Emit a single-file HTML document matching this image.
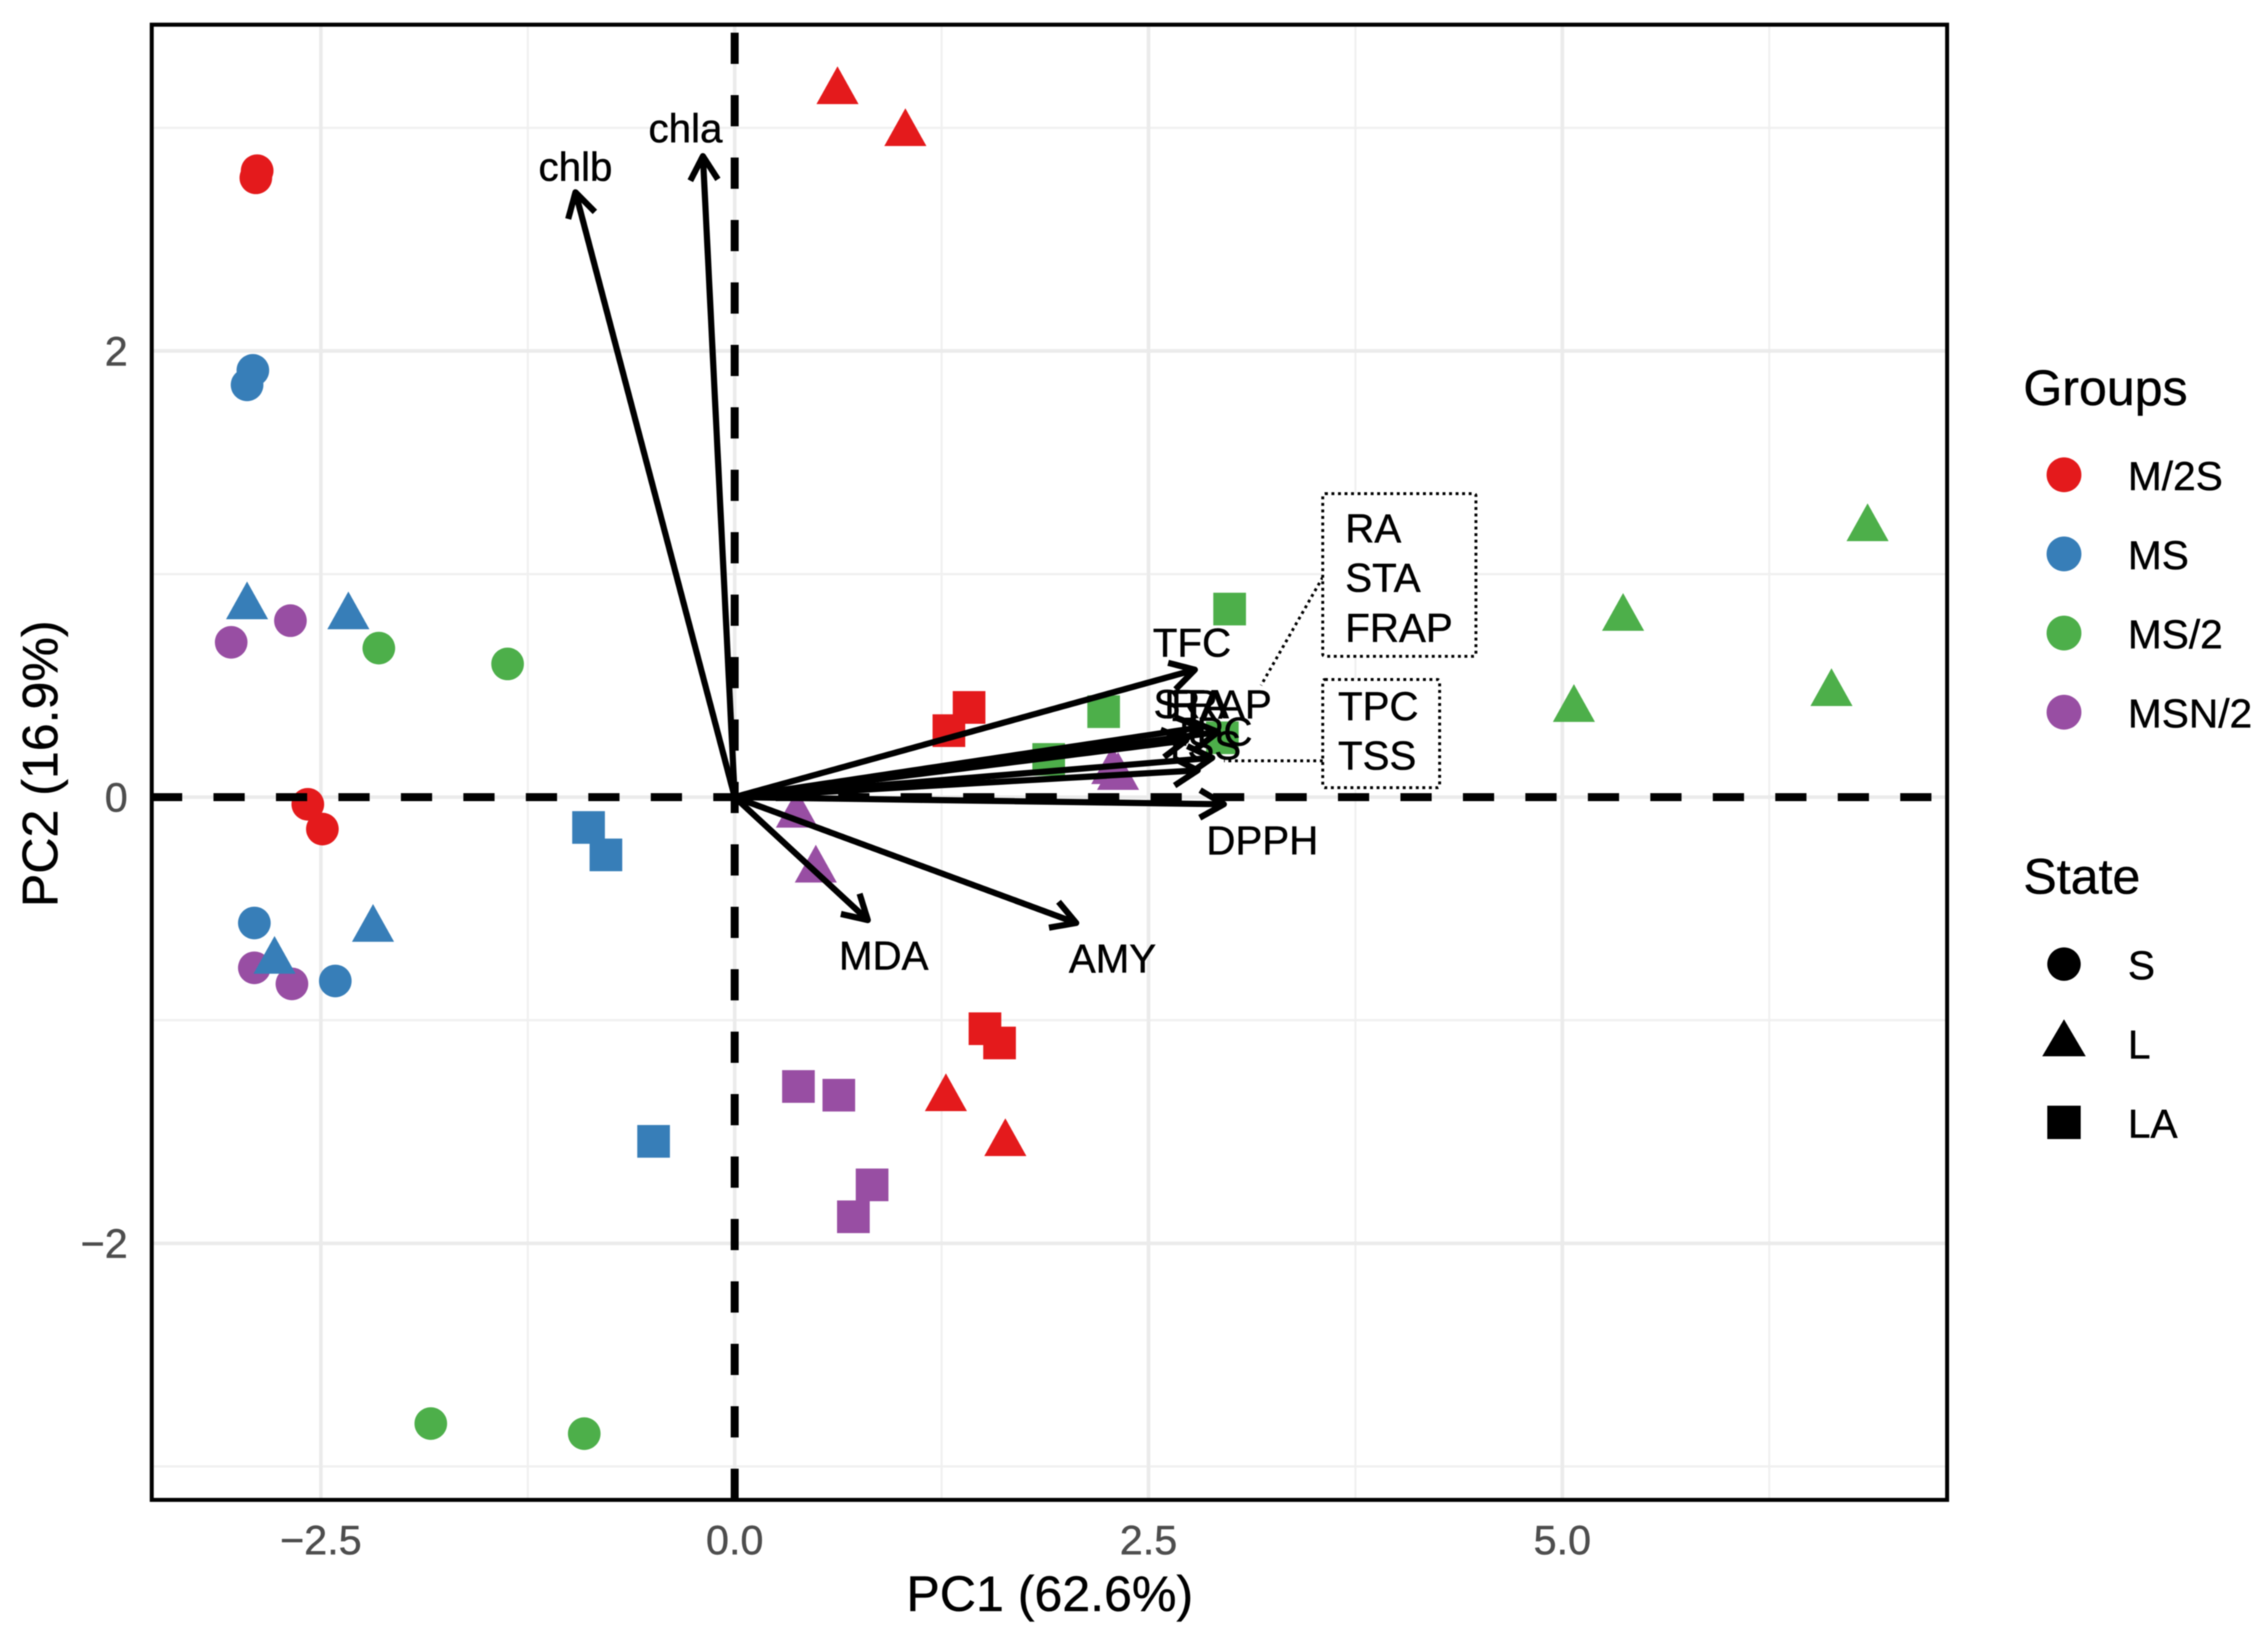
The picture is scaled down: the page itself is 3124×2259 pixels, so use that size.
<!DOCTYPE html>
<html lang="en">
<head>
<meta charset="utf-8">
<title>PCA biplot</title>
<style>
html,body{margin:0;padding:0;background:#fff;width:3124px;height:2259px;overflow:hidden}
svg{display:block;filter:blur(0.8px)}
text{font-family:"Liberation Sans",Arial,sans-serif;stroke:#000;stroke-width:.6}
#ticks text{stroke:#4d4d4d}
</style>
</head>
<body>
<svg id="chart" xmlns="http://www.w3.org/2000/svg" width="3124" height="2259" viewBox="0 0 3124 2259">
  <rect x="0" y="0" width="3124" height="2259" fill="#ffffff"/>
  <g id="grid"></g>
  <g id="points"></g>
  <g id="refs"></g>
  <g id="arrows"></g>
  <g id="labels"></g>

  <g>
    <line x1="1822" y1="795" x2="1737" y2="944" stroke="#000" stroke-width="4" stroke-dasharray="4 5"/>
    <rect x="1822" y="680" width="211" height="224" rx="3" fill="#fff" stroke="#000" stroke-width="4" stroke-dasharray="4 5"/>
    <text x="1853" y="747" font-size="55.5">RA</text>
    <text x="1853" y="815" font-size="55.5">STA</text>
    <text x="1853" y="884" font-size="55.5">FRAP</text>
  </g>
  <g>
    <line x1="1822" y1="1048" x2="1686" y2="1048" stroke="#000" stroke-width="4" stroke-dasharray="4 5"/>
    <rect x="1822" y="936" width="161" height="149" rx="3" fill="#fff" stroke="#000" stroke-width="4" stroke-dasharray="4 5"/>
    <text x="1843" y="992" font-size="55.5">TPC</text>
    <text x="1843" y="1060" font-size="55.5">TSS</text>
  </g>

  <rect x="209" y="34" width="2473" height="2032" fill="none" stroke="#000" stroke-width="5.5"/>
  <g id="ticks"></g>
  <text x="1446" y="2219" font-size="69" text-anchor="middle">PC1 (62.6%)</text>
  <text transform="translate(79,1052) rotate(-90)" font-size="69" text-anchor="middle">PC2 (16.9%)</text>

  <g>
    <text x="2787" y="558" font-size="69">Groups</text>
    <g><circle cx="2843" cy="654" r="24" fill="#e41a1c"/><text x="2931" y="675" font-size="56">M/2S</text></g>
    <g><circle cx="2843" cy="763" r="24" fill="#377eb8"/><text x="2931" y="784" font-size="56">MS</text></g>
    <g><circle cx="2843" cy="872" r="24" fill="#4daf4a"/><text x="2931" y="893" font-size="56">MS/2</text></g>
    <g><circle cx="2843" cy="981" r="24" fill="#984ea3"/><text x="2931" y="1002" font-size="56">MSN/2</text></g>
  </g>
  <g>
    <text x="2787" y="1231" font-size="69">State</text>
    <g><circle cx="2843" cy="1328" r="23" fill="#000"/><text x="2931" y="1349" font-size="56">S</text></g>
    <g><polygon points="2843,1404 2873,1455 2813,1455" fill="#000"/><text x="2931" y="1458" font-size="56">L</text></g>
    <g><rect x="2820" y="1523" width="46" height="46" fill="#000"/><text x="2931" y="1567" font-size="56">LA</text></g>
  </g>
</svg>
<script>
// ---- data ----
const groupNames = ["M/2S", "MS", "MS/2", "MSN/2"];
const stateNames = ["S", "L", "LA"];

const pointPC1 = [
  -2.885,-2.893,-2.579,-2.491, 0.621,1.031,1.276,1.635, 1.416,1.294,1.512,1.600,
  -2.911,-2.946,-2.902,-2.413, -2.946,-2.334,-2.185,-2.780, -0.883,-0.778,-0.490,
  -2.150,-1.372,-1.836,-0.909, 6.844,5.367,5.070,6.626, 2.990,2.229,1.897,2.946,
  -2.684,-3.042,-2.902,-2.675, 0.376,0.490,2.281,2.316, 0.385,0.629,0.830,0.717
];
const pointPC2 = [
  2.808,2.776,-0.032,-0.143, 3.178,2.990,-1.336,-1.537, 0.402,0.298,-1.038,-1.102,
  1.913,1.848,-0.564,-0.824, 0.869,0.824,-0.577,-0.720, -0.136,-0.259,-1.543,
  0.668,0.597,-2.808,-2.853, 1.219,0.817,0.409,0.480, 0.843,0.383,0.169,0.266,
  0.791,0.694,-0.765,-0.837, -0.065,-0.311,0.130,0.104, -1.297,-1.336,-1.738,-1.881
];
const pointGroup = [
  "M/2S","M/2S","M/2S","M/2S","M/2S","M/2S","M/2S","M/2S","M/2S","M/2S","M/2S","M/2S",
  "MS","MS","MS","MS","MS","MS","MS","MS","MS","MS","MS",
  "MS/2","MS/2","MS/2","MS/2","MS/2","MS/2","MS/2","MS/2","MS/2","MS/2","MS/2","MS/2",
  "MSN/2","MSN/2","MSN/2","MSN/2","MSN/2","MSN/2","MSN/2","MSN/2","MSN/2","MSN/2","MSN/2","MSN/2"
];
const pointState = [
  "S","S","S","S","L","L","L","L","LA","LA","LA","LA",
  "S","S","S","S","L","L","L","L","LA","LA","LA",
  "S","S","S","S","L","L","L","L","LA","LA","LA","LA",
  "S","S","S","S","L","L","L","L","LA","LA","LA","LA"
];

const loadingNames = ["chlb","chla","TFC","RA","STA","FRAP","TPC","TSS","DPPH","MDA","AMY"];
const loadingPC1 = [-0.962,-0.192,2.780,2.727,2.815,2.920,2.885,2.797,2.955,0.804,2.063];
const loadingPC2 = [2.711,2.873,0.571,0.254,0.313,0.292,0.176,0.120,-0.032,-0.551,-0.564];

const xMajorTicks = [-2.5, 0, 2.5, 5];
const xTickLabels = ["\u22122.5", "0.0", "2.5", "5.0"];
const xMinorTicks = [-1.25, 1.25, 3.75, 6.25];
const yMajorTicks = [-2, 0, 2];
const yTickLabels = ["\u22122", "0", "2"];
const yMinorTicks = [-3, -1, 1, 3];

// ---- axes ----
const panel = {left: 209, right: 2682, top: 34, bottom: 2066};
function xScale(v) { return 1012 + v * 228; }
function yScale(v) { return 1098 - v * 307.3; }

// ---- layout ----
const groupColor = {"M/2S": "#e41a1c", "MS": "#377eb8", "MS/2": "#4daf4a", "MSN/2": "#984ea3"};
const labelNudge = {
  chlb:[0,-35], chla:[-24,-38], TFC:[-4,-37], RA:[18,-50], STA:[-13,-32], FRAP:[0,-38],
  TPC:[0,-36], TSS:[6,-34], DPPH:[53,50], MDA:[22,49], AMY:[50,49]
};
const NS = "http://www.w3.org/2000/svg";
function make(tag, parent, attrs) {
  const el = document.createElementNS(NS, tag);
  for (const k in attrs) el.setAttribute(k, attrs[k]);
  parent.appendChild(el);
  return el;
}
function slug(s) { return s.toLowerCase().replace(/[^a-z0-9]+/g, ""); }

// ---- grid ----
const gridG = document.getElementById("grid");
xMinorTicks.forEach(function (t) {
  const el = make("line", gridG, {x1: xScale(t), x2: xScale(t), y1: panel.top, y2: panel.bottom, stroke: "#f0f0f0", "stroke-width": 3});
  
  
});
yMinorTicks.forEach(function (t) {
  const el = make("line", gridG, {x1: panel.left, x2: panel.right, y1: yScale(t), y2: yScale(t), stroke: "#f0f0f0", "stroke-width": 3});
  
  
});
xMajorTicks.forEach(function (t) {
  const el = make("line", gridG, {x1: xScale(t), x2: xScale(t), y1: panel.top, y2: panel.bottom, stroke: "#ebebeb", "stroke-width": 5});
  
  
});
yMajorTicks.forEach(function (t) {
  const el = make("line", gridG, {x1: panel.left, x2: panel.right, y1: yScale(t), y2: yScale(t), stroke: "#ebebeb", "stroke-width": 5});
  
  
});

// ---- points (circles first, then triangles, then squares) ----
const pointsG = document.getElementById("points");
stateNames.forEach(function (state) {
  pointPC1.forEach(function (v, i) {
    if (pointState[i] !== state) return;
    const cx = xScale(v), cy = yScale(pointPC2[i]);
    const fill = groupColor[pointGroup[i]];
    let el;
    if (state === "S") {
      el = make("circle", pointsG, {cx: cx, cy: cy, r: 22.5, fill: fill});
    } else if (state === "L") {
      el = make("polygon", pointsG, {points: cx + "," + (cy - 30) + " " + (cx + 29) + "," + (cy + 22) + " " + (cx - 29) + "," + (cy + 22), fill: fill});
    } else {
      el = make("rect", pointsG, {x: cx - 22.5, y: cy - 22.5, width: 45, height: 45, fill: fill});
    }
    
    
  });
});

// ---- zero reference lines ----
const refsG = document.getElementById("refs");
const hRef = make("line", refsG, {x1: panel.left - 1, x2: panel.right, y1: yScale(0), y2: yScale(0), stroke: "#000", "stroke-width": 11, "stroke-dasharray": "43 43.05"});


const vRef = make("line", refsG, {x1: xScale(0), x2: xScale(0), y1: panel.bottom, y2: panel.top, stroke: "#000", "stroke-width": 11, "stroke-dasharray": "43 43"});



// ---- loading arrows and labels ----
const arrowsG = document.getElementById("arrows");
const labelsG = document.getElementById("labels");
const HEAD = 38, SPREAD = Math.PI / 6;
loadingNames.forEach(function (name, i) {
  const x0 = xScale(0), y0 = yScale(0);
  const x1 = xScale(loadingPC1[i]), y1 = yScale(loadingPC2[i]);
  const a = Math.atan2(y1 - y0, x1 - x0);
  const ax = x1 - HEAD * Math.cos(a - SPREAD), ay = y1 - HEAD * Math.sin(a - SPREAD);
  const bx = x1 - HEAD * Math.cos(a + SPREAD), by = y1 - HEAD * Math.sin(a + SPREAD);
  const d = "M" + x0 + " " + y0 + "L" + x1 + " " + y1 + "M" + ax + " " + ay + "L" + x1 + " " + y1 + "L" + bx + " " + by;
  const arrow = make("path", arrowsG, {d: d, fill: "none", stroke: "#000", "stroke-width": 8.5, "stroke-linejoin": "round"});
  
  
  const nudge = labelNudge[name];
  const label = make("text", labelsG, {x: x1 + nudge[0], y: y1 + nudge[1] + 19, "font-size": 55.5, "text-anchor": "middle", fill: "#000"});
  label.textContent = name;
  
  
});

// ---- tick labels ----
const ticksG = document.getElementById("ticks");
xMajorTicks.forEach(function (t, i) {
  const el = make("text", ticksG, {x: xScale(t), y: 2141, "font-size": 57, "text-anchor": "middle", fill: "#4d4d4d"});
  el.textContent = xTickLabels[i];
  
  
});
yMajorTicks.forEach(function (t, i) {
  const el = make("text", ticksG, {x: 176, y: yScale(t) + 20, "font-size": 57, "text-anchor": "end", fill: "#4d4d4d"});
  el.textContent = yTickLabels[i];
  
  
});
</script>
</body>
</html>
